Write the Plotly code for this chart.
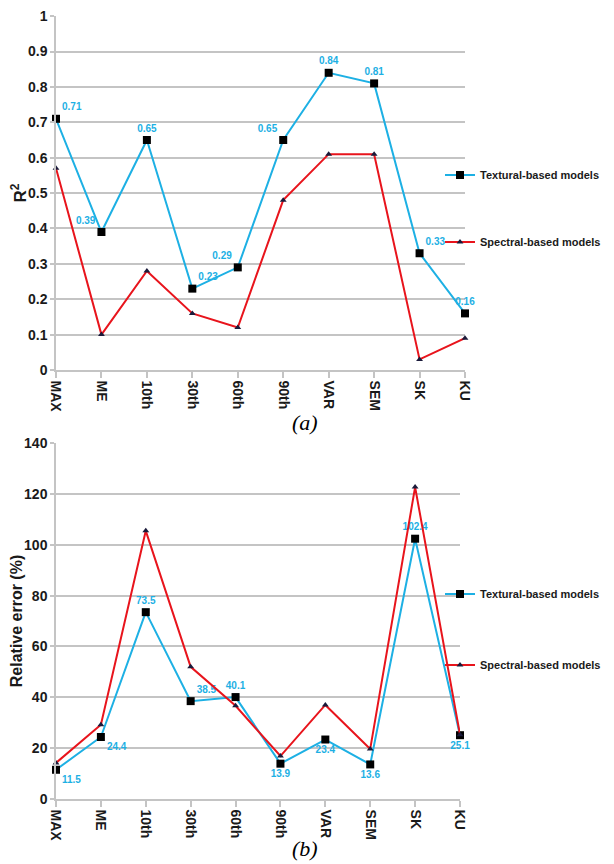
import plotly.graph_objects as go

categories = ["MAX", "ME", "10th", "30th", "60th", "90th", "VAR", "SEM", "SK", "KU"]

r2_textural = [0.71, 0.39, 0.65, 0.23, 0.29, 0.65, 0.84, 0.81, 0.33, 0.16]
r2_spectral = [0.57, 0.10, 0.28, 0.16, 0.12, 0.48, 0.61, 0.61, 0.03, 0.09]
r2_label_pos = ["top right", "top left", "top center", "top right", "top left",
                "top left", "top center", "top center", "top right", "top center"]
r2_ticks = [0, 0.1, 0.2, 0.3, 0.4, 0.5, 0.6, 0.7, 0.8, 0.9, 1]

err_textural = [11.5, 24.4, 73.5, 38.5, 40.1, 13.9, 23.4, 13.6, 102.4, 25.1]
err_spectral = [14.2, 29.2, 105.5, 52.0, 36.7, 16.9, 37.0, 19.7, 122.7, 25.3]
err_label_pos = ["bottom right", "bottom right", "top center", "top right", "top center",
                 "bottom center", "bottom center", "bottom center", "top center", "bottom center"]

BLUE = "#1db0e4"
RED = "#e8141c"
GRID = "#c4c4c4"
W, H = 606, 856   # page body has an 8px margin
OFF = 8

def px(x):
    return (x - OFF) / W

def py(y):
    return 1 - (y - OFF) / H

fig = go.Figure()

def add_pair(xa, ya, tex, spec, labels, pos, fmt, lg1, lg2):
    fig.add_trace(go.Scatter(
        x=categories, y=tex, xaxis=xa, yaxis=ya, mode="lines+markers+text",
        name="Textural-based models", legend=lg1, showlegend=True,
        line=dict(color=BLUE, width=2),
        marker=dict(symbol="square", size=8, color="black"),
        text=[fmt.format(v) for v in labels], textposition=pos, cliponaxis=False,
        textfont=dict(family="Liberation Sans", size=10, color=BLUE, weight="bold"),
    ))
    fig.add_trace(go.Scatter(
        x=categories, y=spec, xaxis=xa, yaxis=ya, mode="lines+markers",
        name="Spectral-based models", legend=lg2, showlegend=True,
        line=dict(color=RED, width=2),
        marker=dict(symbol="triangle-up", size=6, color="#1a1a3a"),
        cliponaxis=False,
    ))

add_pair("x", "y", r2_textural, r2_spectral, r2_textural, r2_label_pos, "{:.2f}", "legend", "legend2")
add_pair("x2", "y2", err_textural, err_spectral, err_textural, err_label_pos, "{}", "legend3", "legend4")

tickfont = dict(family="Liberation Sans", size=14, color="#1a1a1a", weight="bold")

xcommon = dict(type="category", range=[0, 9], showgrid=False, tickangle=90,
               showline=True, linecolor=GRID, linewidth=1.5,
               ticks="outside", ticklen=6, tickcolor=GRID, tickwidth=1.5,
               tickfont=tickfont)
ycommon = dict(showgrid=True, gridcolor=GRID, gridwidth=1.5, zeroline=False,
               showline=True, linecolor=GRID, linewidth=1.5,
               ticks="outside", ticklen=4, tickcolor=GRID, tickwidth=1.5,
               tickfont=tickfont)

legfont = dict(family="Liberation Sans", size=11, color="#1a1a1a", weight="bold")

def leg(y):
    return dict(x=px(440), y=py(y), xanchor="left", yanchor="middle",
                font=legfont, bgcolor="rgba(0,0,0,0)", itemwidth=30,
                tracegroupgap=0, visible=True)

fig.update_layout(
    width=W, height=H,
    showlegend=True,
    margin=dict(l=0, r=0, t=0, b=0, autoexpand=False),
    paper_bgcolor="white", plot_bgcolor="white",
    xaxis=dict(domain=[px(56), px(465)], anchor="y", **xcommon),
    yaxis=dict(domain=[py(370), py(16)], anchor="x", range=[0, 1.0005],
               tickmode="array", tickvals=r2_ticks, ticktext=[f"{t:g}" for t in r2_ticks],
               title=dict(text="R<sup>2</sup>", standoff=8,
                          font=dict(family="Liberation Sans", size=17, color="#1a1a1a", weight="bold")),
               **ycommon),
    xaxis2=dict(domain=[px(56), px(460)], anchor="y2", **xcommon),
    yaxis2=dict(domain=[py(799), py(443)], anchor="x2", range=[0, 140.05], dtick=20,
                title=dict(text="Relative error (%)", standoff=8,
                           font=dict(family="Liberation Sans", size=16, color="#1a1a1a", weight="bold")),
                **ycommon),
    legend=leg(175),
    legend2=leg(242),
    legend3=leg(594),
    legend4=leg(665),
    annotations=[
        dict(text="<i>(a)</i>", x=px(305), y=py(422), xref="paper", yref="paper",
             xanchor="center", yanchor="middle",
             showarrow=False, font=dict(family="Liberation Serif", size=22, color="black")),
        dict(text="<i>(b)</i>", x=px(305), y=py(848), xref="paper", yref="paper",
             xanchor="center", yanchor="middle",
             showarrow=False, font=dict(family="Liberation Serif", size=22, color="black")),
    ],
)

fig.write_html("out.html")
